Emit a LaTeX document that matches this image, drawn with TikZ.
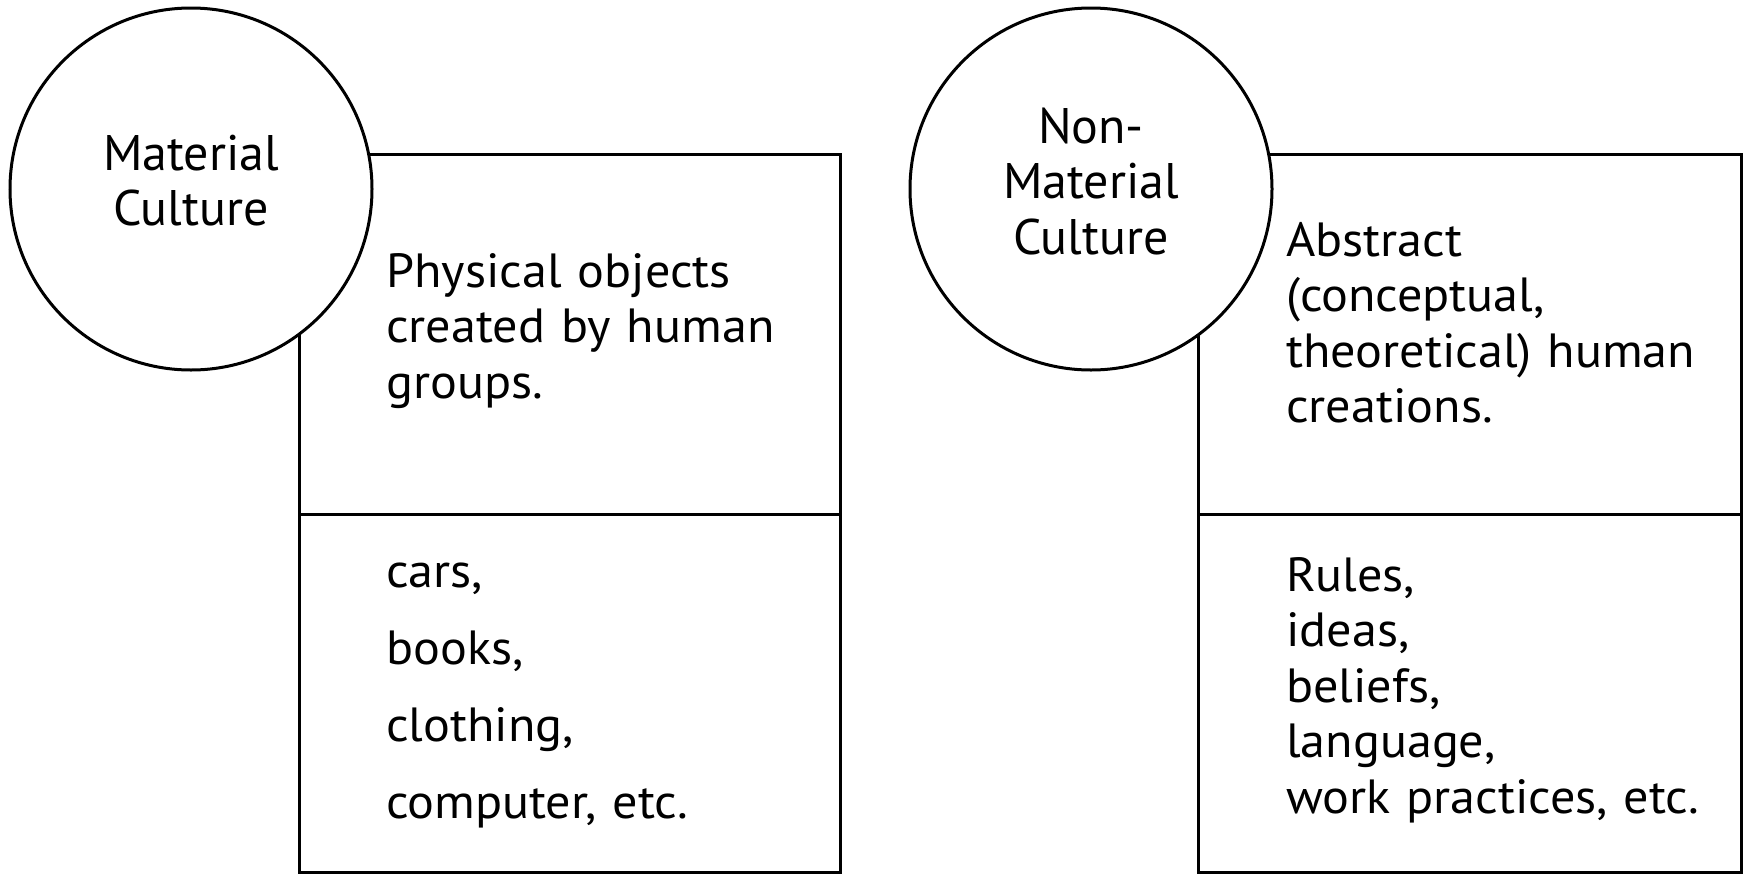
\documentclass[tikz,border=0pt]{standalone}
\usepackage{fontspec}
\setmainfont{PT Sans}
\newfontfamily\boxfont[FakeStretch=1.045]{PT Sans}
\begin{document}
\begin{tikzpicture}[x=1pt,y=-1pt,
  line/.style={line width=3pt, draw=black},
  boxpart/.style={line, rectangle, inner sep=0pt, anchor=north west},
  disc/.style={line, circle, fill=white, inner sep=0pt, minimum size=362pt},
  boxtext/.style={inner sep=0pt, anchor=base west, text width=450pt, align=left,
    font=\boxfont\fontsize{48}{55.5}\selectfont},
  wideboxtext/.style={boxtext, font=\boxfont\fontsize{48}{77}\selectfont},
  circtext/.style={inner sep=0pt, anchor=base, text width=320pt, align=center,
    font=\fontsize{50}{55.5}\selectfont}]
\useasboundingbox (0,0) rectangle (1743,873);
% left column
\node[boxpart, minimum width=541pt, minimum height=360pt] (LU) at (298,153) {};
\node[boxpart, minimum width=541pt, minimum height=358pt] (LL) at (298,513) {};
\node[disc] (LC) at (191,189) {};
% right column
\node[boxpart, minimum width=543pt, minimum height=360pt] (RU) at (1197,153) {};
\node[boxpart, minimum width=543pt, minimum height=358pt] (RL) at (1197,513) {};
\node[disc] (RC) at (1091,189) {};
% texts
\node[circtext] (LCt) at (191,170) {Material\\Culture};
\node[circtext] (RCt) at (1091,143) {Non-\\Material\\Culture};
\node[boxtext] (LUt) at (386,287) {Physical objects\\created by human\\groups.};
\node[wideboxtext] (LLt) at (386,587) {cars,\\books,\\clothing,\\computer, etc.};
\node[boxtext] (RUt) at (1286,256) {Abstract\\(conceptual,\\theoretical) human\\creations.};
\node[boxtext] (RLt) at (1286,591) {Rules,\\ideas,\\beliefs,\\language,\\work practices, etc.};
\end{tikzpicture}
\end{document}
